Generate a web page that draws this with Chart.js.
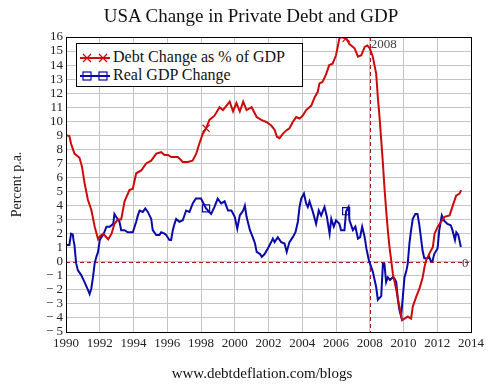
<!DOCTYPE html>
<html>
<head>
<meta charset="utf-8">
<script src="https://cdn.jsdelivr.net/npm/chart.js@4.4.1/dist/chart.umd.min.js"></script>
<style>
  body { margin: 0; background: #fff; }
  #wrap { position: relative; width: 494px; height: 385px; font-family: "Liberation Serif", "Times New Roman", serif; color: #111; }
  #chart { position: absolute; left: 0; top: 0; }
  #title { position: absolute; left: 0; width: 502px; top: 5px; text-align: center; font-size: 19px; }
  #footer { position: absolute; left: 0; width: 524px; top: 365px; text-align: center; font-size: 15px; }
  #legend { position: absolute; left: 76px; top: 43px; width: 225px; height: 42px; border: 1px solid #000; background: #fff; }
  .item { position: absolute; left: 3px; height: 20px; line-height: 20px; font-size: 16px; white-space: nowrap; }
  .item svg { vertical-align: middle; margin-right: 3px; }
</style>
</head>
<body>
<div id="wrap">
  <canvas id="chart" width="494" height="385"></canvas>
  <div id="title">USA Change in Private Debt and GDP</div>
  <div id="legend"></div>
  <div id="footer">www.debtdeflation.com/blogs</div>
</div>
<script>
// data (percent per annum)
const debtYears = [1990.0, 1990.2, 1990.3, 1990.5, 1990.8, 1990.95, 1991.1, 1991.3, 1991.5, 1991.7,
  1991.9, 1992.0, 1992.2, 1992.35, 1992.5, 1992.7, 1992.87, 1993.07, 1993.27, 1993.47,
  1993.76, 1993.96, 1994.16, 1994.46, 1994.75, 1995.05, 1995.35, 1995.64, 1995.84, 1996.05,
  1996.23, 1996.63, 1996.92, 1997.22, 1997.5, 1997.72, 1997.9, 1998.1, 1998.3, 1998.5,
  1998.8, 1999.1, 1999.3, 1999.5, 1999.7, 1999.9, 2000.1, 2000.3, 2000.5, 2000.7,
  2001.0, 2001.3, 2001.57, 2001.87, 2002.16, 2002.36, 2002.5, 2002.65, 2002.85, 2003.05,
  2003.24, 2003.44, 2003.64, 2003.84, 2004.03, 2004.23, 2004.53, 2004.73, 2004.92, 2005.02,
  2005.2, 2005.4, 2005.6, 2005.8, 2006.0, 2006.1, 2006.2, 2006.3, 2006.45, 2006.6,
  2006.8, 2007.1, 2007.3, 2007.5, 2007.7, 2007.85, 2008.0, 2008.18, 2008.38, 2008.48,
  2008.58, 2008.68, 2008.78, 2008.87, 2008.97, 2009.07, 2009.17, 2009.27, 2009.37, 2009.57,
  2009.76, 2009.92, 2010.06, 2010.25, 2010.45, 2010.55, 2010.75, 2010.95, 2011.14, 2011.24,
  2011.34, 2011.54, 2011.74, 2011.84, 2012.03, 2012.23, 2012.43, 2012.73, 2012.92, 2013.12,
  2013.32, 2013.42];
const debtValues = [9.0, 8.95, 8.4, 7.7, 7.4, 6.75, 5.6, 4.4, 3.7, 2.5,
  1.6, 1.8, 2.0, 1.8, 1.6, 2.0, 2.7, 3.0, 3.0, 4.3,
  5.1, 5.2, 6.3, 6.5, 7.0, 7.2, 7.7, 7.8, 7.6, 7.6,
  7.45, 7.45, 7.1, 7.1, 7.2, 7.7, 8.4, 9.1, 9.5, 10.1,
  10.4, 11.0, 10.8, 11.1, 11.4, 10.7, 11.3, 10.7, 11.4, 10.8,
  11.0, 10.3, 10.1, 9.95, 9.7, 9.4, 8.9, 8.8, 9.1, 9.35,
  9.5, 9.95, 10.3, 10.2, 10.4, 10.8, 11.1, 11.7, 12.1, 12.7,
  12.8, 13.3, 14.0, 14.1, 14.7, 15.3, 15.9, 16.0, 15.95, 15.9,
  15.5, 15.2, 14.6, 14.7, 15.3, 15.4, 15.2, 14.6, 13.4, 11.7,
  10.3, 8.65, 7.0, 5.3, 3.7, 2.25, 1.05, 0.1, -0.85, -2.0,
  -3.2, -4.15, -4.05, -3.9, -4.05, -3.2, -2.5, -1.9, -1.1, -0.4,
  0.1, 0.6, 1.05, 2.0, 2.5, 2.85, 3.2, 3.3, 4.0, 4.7,
  4.85, 5.1];
const gdpYears = [1990.0, 1990.2, 1990.3, 1990.4, 1990.45, 1990.5, 1990.6, 1990.7, 1990.9, 1991.1,
  1991.3, 1991.4, 1991.5, 1991.6, 1991.7, 1991.8, 1991.9, 1992.0, 1992.1, 1992.2,
  1992.4, 1992.6, 1992.8, 1992.87, 1992.97, 1993.17, 1993.27, 1993.47, 1993.66, 1993.96,
  1994.16, 1994.26, 1994.36, 1994.55, 1994.7, 1994.85, 1995.05, 1995.14, 1995.35, 1995.54,
  1995.64, 1995.84, 1995.94, 1996.13, 1996.23, 1996.33, 1996.43, 1996.53, 1996.72, 1996.92,
  1997.12, 1997.32, 1997.51, 1997.7, 1998.0, 1998.15, 1998.3, 1998.6, 1998.8, 1998.99,
  1999.2, 1999.4, 1999.6, 1999.8, 2000.0, 2000.15, 2000.3, 2000.5, 2000.6, 2000.7,
  2000.9, 2001.1, 2001.2, 2001.3, 2001.5, 2001.6, 2001.77, 2001.96, 2002.16, 2002.26,
  2002.36, 2002.55, 2002.75, 2002.95, 2003.08, 2003.24, 2003.44, 2003.6, 2003.74, 2003.84,
  2003.94, 2004.1, 2004.23, 2004.33, 2004.43, 2004.63, 2004.82, 2004.98, 2005.12, 2005.32,
  2005.46, 2005.62, 2005.72, 2005.87, 2006.0, 2006.2, 2006.3, 2006.5, 2006.6, 2006.74,
  2006.8, 2007.0, 2007.15, 2007.3, 2007.43, 2007.55, 2007.7, 2007.8, 2007.95, 2008.18,
  2008.38, 2008.48, 2008.68, 2008.78, 2008.87, 2008.97, 2009.07, 2009.2, 2009.37, 2009.47,
  2009.57, 2009.67, 2009.76, 2009.86, 2009.96, 2010.06, 2010.16, 2010.25, 2010.35, 2010.45,
  2010.55, 2010.7, 2010.83, 2010.93, 2011.03, 2011.13, 2011.23, 2011.43, 2011.52, 2011.62,
  2011.72, 2011.82, 2012.02, 2012.12, 2012.27, 2012.4, 2012.6, 2012.8, 2012.9, 2013.05,
  2013.13, 2013.25, 2013.4];
const gdpValues = [1.2, 1.2, 2.0, 1.95, 1.5, 1.2, -0.1, -0.6, -0.95, -1.45,
  -2.0, -2.3, -1.9, -1.1, -0.1, 0.35, 0.7, 1.55, 1.75, 1.9,
  2.5, 2.5, 2.7, 3.4, 3.2, 2.85, 2.25, 2.25, 2.1, 2.1,
  2.85, 3.3, 3.65, 3.55, 3.8, 3.55, 3.05, 2.25, 1.9, 1.9,
  2.1, 2.0, 1.9, 1.55, 1.55, 2.25, 2.7, 3.05, 2.85, 2.95,
  3.65, 3.55, 4.15, 4.5, 4.5, 4.15, 3.8, 3.4, 3.9, 4.5,
  4.15, 4.3, 3.65, 3.65, 3.2, 2.35, 3.3, 3.65, 4.0, 3.2,
  2.25, 1.65, 1.3, 0.7, 0.55, 0.35, 0.55, 0.95, 1.4, 1.65,
  1.4, 1.75, 1.4, 1.3, 0.7, 1.4, 1.75, 2.1, 2.85, 3.9,
  4.5, 4.85, 4.15, 3.9, 4.3, 3.55, 2.7, 3.65, 3.3, 3.9,
  3.2, 2.0, 3.05, 2.5, 2.95, 2.7, 2.25, 2.25, 3.6, 3.9,
  2.95, 2.25, 2.5, 1.65, 1.75, 2.5, 1.75, 0.95, 0.1, -0.7,
  -1.8, -2.7, -2.45, -0.15, -0.15, -1.45, -1.1, -1.3, -1.1, -1.2,
  -1.45, -2.75, -3.45, -3.9, -2.5, -1.1, -0.7, -0.15, 1.3, 2.25,
  3.05, 3.4, 3.4, 2.7, 1.75, 0.8, 0.25, 0.25, 0.35, 0.05,
  0.05, 0.55, 0.95, 2.25, 3.3, 2.95, 2.7, 2.6, 2.25, 1.55,
  2.1, 1.9, 1.05];
// years where a marker symbol is drawn on each line
const debtMarkerYears = [1998.3, 2006.6];
const gdpMarkerYears = [1998.3, 2006.6];
const xTicks = [1990, 1992, 1994, 1996, 1998, 2000, 2002, 2004, 2006, 2008, 2010, 2012, 2014];
const markLineYear = 2008;
const markLineValue = 0;

const seriesNames = ['Debt Change as % of GDP', 'Real GDP Change'];
const red = '#cc0a0a';
const blue = '#0a0aa8';
const serif = '"Liberation Serif", "Times New Roman", serif';

function pairs(xs, ys) {
  return xs.map(function (x, i) { return { x: x, y: ys[i] }; });
}

function markerRadius(years, r) {
  return function (ctx) {
    const p = ctx.raw;
    return p && years.indexOf(p.x) >= 0 ? r : 0;
  };
}

// build html legend
const legendBox = document.getElementById('legend');
[[red, 'x'], [blue, 's']].forEach(function (s, i) {
  const c = s[0];
  let mk = '';
  [7, 23].forEach(function (mx) {
    if (s[1] === 'x') {
      mk += '<path d="M' + (mx - 4) + ' 6 L' + (mx + 4) + ' 14 M' + (mx - 4) + ' 14 L' + (mx + 4) + ' 6" stroke="' + c + '" stroke-width="1.2"/>';
    } else {
      mk += '<rect x="' + (mx - 4) + '" y="6" width="8" height="8" fill="none" stroke="' + c + '" stroke-width="1.2"/>';
    }
  });
  const svg = '<svg width="30" height="20"><line x1="0" y1="10" x2="30" y2="10" stroke="' + c + '" stroke-width="2"/>' + mk + '</svg>';
  const d = document.createElement('div');
  d.className = 'item';
  d.style.top = (i === 0 ? 3 : 21) + 'px';
  d.innerHTML = svg + seriesNames[i];
  legendBox.appendChild(d);
});

// dashed reference lines, frame and their labels
const refLines = {
  id: 'refLines',
  beforeDatasetsDraw: function (chart) {
    const a = chart.chartArea;
    const ctx = chart.ctx;
    const x = chart.scales.x.getPixelForValue(markLineYear);
    const y = chart.scales.y.getPixelForValue(markLineValue);
    ctx.save();
    ctx.strokeStyle = '#b01818';
    ctx.lineWidth = 1;
    ctx.setLineDash([4, 3]);
    ctx.beginPath();
    ctx.moveTo(Math.round(x) + 0.5, a.top);
    ctx.lineTo(Math.round(x) + 0.5, a.bottom);
    ctx.moveTo(a.left, Math.round(y) + 0.5);
    ctx.lineTo(a.right, Math.round(y) + 0.5);
    ctx.stroke();
    ctx.restore();
  },
  afterDraw: function (chart) {
    const a = chart.chartArea;
    const ctx = chart.ctx;
    const x = chart.scales.x.getPixelForValue(markLineYear);
    const y = chart.scales.y.getPixelForValue(markLineValue);
    ctx.save();
    ctx.strokeStyle = '#000';
    ctx.lineWidth = 1;
    ctx.strokeRect(Math.round(a.left) + 0.5, Math.round(a.top) + 0.5, Math.round(a.right - a.left), Math.round(a.bottom - a.top));
    ctx.fillStyle = '#444';
    ctx.font = '13px ' + serif;
    ctx.textBaseline = 'middle';
    ctx.fillText(String(markLineYear), x + 1, a.top + 8);
    ctx.fillText(String(markLineValue), a.right - 9, y + 2);
    ctx.restore();
  }
};

function drawChart() {
  new Chart(document.getElementById('chart'), {
    type: 'line',
    data: {
      datasets: [
        {
          label: seriesNames[0],
          data: pairs(debtYears, debtValues),
          borderColor: red,
          backgroundColor: red,
          borderWidth: 2,
          pointStyle: 'crossRot',
          pointRadius: markerRadius(debtMarkerYears, 5),
          pointBorderWidth: 1.2,
          tension: 0
        },
        {
          label: seriesNames[1],
          data: pairs(gdpYears, gdpValues),
          borderColor: blue,
          backgroundColor: 'rgba(0,0,0,0)',
          borderWidth: 2,
          pointStyle: 'rect',
          pointRadius: markerRadius(gdpMarkerYears, 5),
          pointBorderWidth: 1.2,
          tension: 0
        }
      ]
    },
    options: {
      responsive: false,
      animation: false,
      layout: { padding: { top: 37, right: 23, bottom: 28, left: 0 } },
      plugins: {
        legend: { display: false },
        tooltip: { enabled: false }
      },
      scales: {
        x: {
          type: 'linear',
          min: 1990,
          max: 2014,
          afterBuildTicks: function (scale) {
            scale.ticks = xTicks.map(function (v) { return { value: v }; });
          },
          afterFit: function (scale) { scale.height = 25; },
          grid: { color: '#c4c4c4', drawTicks: false },
          border: { color: '#000' },
          ticks: {
            padding: 4,
            color: '#222',
            autoSkip: false,
            font: { family: serif, size: 13 },
            maxRotation: 0,
            callback: function (v) { return String(v); }
          }
        },
        y: {
          min: -5,
          max: 16,
          afterFit: function (scale) { scale.width = 66; },
          grid: { color: '#c4c4c4', drawTicks: false },
          border: { color: '#000' },
          title: {
            display: true,
            text: 'Percent p.a.',
            color: '#222',
            font: { family: serif, size: 14 },
            padding: { top: 9, bottom: 0 }
          },
          ticks: {
            stepSize: 1,
            padding: 3,
            autoSkip: false,
            color: '#222',
            font: { family: serif, size: 13 },
            callback: function (v) { return v < 0 ? '\u2212 ' + Math.abs(v) : String(v); }
          }
        }
      }
    },
    plugins: [refLines]
  });
}

// make sure the serif face is ready before the canvas text is drawn
document.fonts.load('13px "Liberation Serif"').then(drawChart, drawChart);
</script>
</body>
</html>
